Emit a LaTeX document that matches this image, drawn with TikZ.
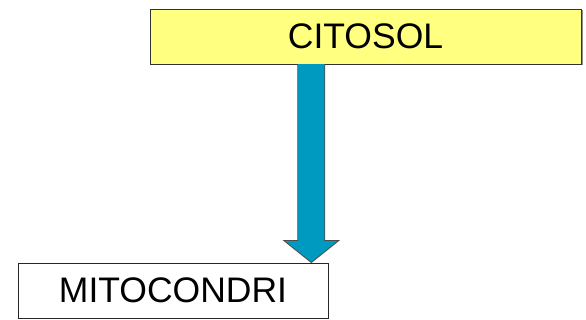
\documentclass[tikz,border=0pt]{standalone}
\usepackage{fontspec}
\setmainfont{Liberation Sans}
\usetikzlibrary{calc,shadows}
\definecolor{citoyellow}{RGB}{255,255,128}
\definecolor{arrowblue}{RGB}{0,153,192}
\begin{document}
\begin{tikzpicture}[x=1pt,y=1pt]
    \useasboundingbox (0,0) rectangle (586,320);

    % Cytosol
    \node[draw=black!80, fill=citoyellow, minimum width=431pt, minimum height=55pt, inner sep=0pt,
          drop shadow={shadow xshift=1.5pt, shadow yshift=-1.5pt, fill=black!45, opacity=1},
          font=\fontsize{35.5}{40}\selectfont] (cito) at (365.5,283.5) {CITOSOL};

    % Mitochondrion
    \node[draw=black!85, line width=0.9pt, fill=white, minimum width=310pt, minimum height=55pt, inner sep=0pt,
          font=\fontsize{35.5}{40}\selectfont] (mito) at (173,29.5) {MITOCONDRI};

    % Transport arrow
    \coordinate (top) at ($(cito.south west)+(161.5,0)$);
    \coordinate (tip) at (mito.north -| top);
    \draw[draw=black!70, line width=0.8pt, fill=arrowblue, line join=miter]
        ($(top)+(-13.5,0)$) -- ($(tip)+(-13.5,22)$) -- ($(tip)+(-27.5,22)$) -- (tip)
        -- ($(tip)+(27.5,22)$) -- ($(tip)+(13.5,22)$) -- ($(top)+(13.5,0)$);
\end{tikzpicture}
\end{document}
